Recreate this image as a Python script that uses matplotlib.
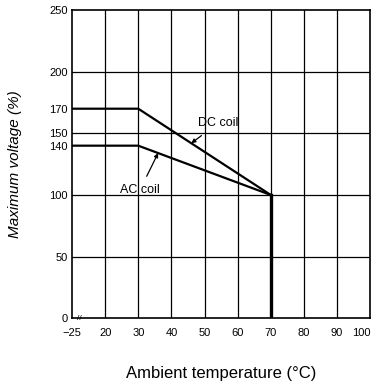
import numpy as np
import matplotlib.pyplot as plt

# temperature break: -25 is drawn one grid step left of 20
temps = [-25, 30, 70]
dc_coil = [170, 170, 100]
ac_coil = [140, 140, 100]
cutoff_temp = [70, 70]
cutoff_volt = [100, 0]

x_ticks = [-25, 20, 30, 40, 50, 60, 70, 80, 90, 100]
y_ticks = [0, 50, 100, 140, 150, 170, 200, 250]
grid_y = [50, 100, 150, 200]


def xpos(t):
    """map temperature to axis position (-25 sits at 10)"""
    t = np.asarray(t, dtype=float)
    return np.where(t == -25, 10, t)


plt.rcParams['font.family'] = ['Liberation Sans', 'DejaVu Sans']

fig = plt.figure(figsize=(3.75, 3.89), dpi=100)
ax = fig.add_axes([0.192, 0.182, 0.795, 0.792])

for t in x_ticks[1:-1]:
    ax.axvline(xpos(t), color='black', lw=0.9, zorder=1)
for v in grid_y:
    ax.axhline(v, color='black', lw=0.9, zorder=1)

ax.plot(xpos(temps), dc_coil, color='black', lw=1.6, zorder=3)
ax.plot(xpos(temps), ac_coil, color='black', lw=1.6, zorder=3)
ax.plot(xpos(cutoff_temp), cutoff_volt, color='black', lw=2.4, zorder=3)

ax.annotate('DC coil', xy=(46, 142), xytext=(54, 158), ha='center', va='center',
            fontsize=9, arrowprops=dict(arrowstyle='-|>', color='black', lw=0.9,
                                        mutation_scale=6, shrinkA=4, shrinkB=0))
ax.annotate('AC coil', xy=(36, 134), xytext=(30.5, 104), ha='center', va='center',
            fontsize=9, arrowprops=dict(arrowstyle='-|>', color='black', lw=0.9,
                                        mutation_scale=6, shrinkA=4, shrinkB=0))

# axis break mark
ax.text(12.3, 0, '//', fontsize=6, ha='center', va='center')

ax.set_xlim(10, 100)
ax.set_ylim(0, 250)
ax.set_xticks(xpos(x_ticks))
ax.set_xticklabels(['\u221225' if t == -25 else str(t) for t in x_ticks], fontsize=8)
ax.get_xticklabels()[-1].set_horizontalalignment('right')
ax.get_xticklabels()[-1].set_x(101.5)
ax.set_yticks(y_ticks)
ax.set_yticklabels([str(v) for v in y_ticks], fontsize=8)
ax.tick_params(length=0, pad=3)
ax.tick_params(axis='x', pad=7)
for s in ax.spines.values():
    s.set_linewidth(1.2)

ax.set_xlabel('Ambient temperature (\u00b0C)', fontsize=12, labelpad=20)
ax.set_ylabel('Maximum voltage (%)', fontsize=11, style='italic', labelpad=20)

fig.savefig('out.png', dpi=100)
